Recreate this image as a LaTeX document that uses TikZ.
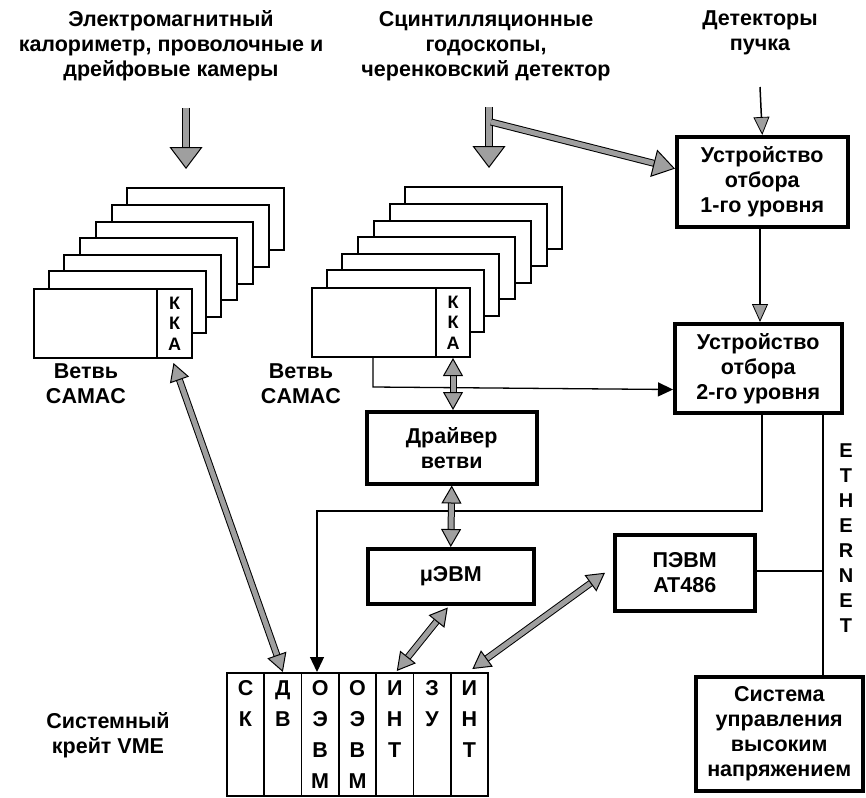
\documentclass[tikz,border=0pt]{standalone}
\usepackage{fontspec}
\setmainfont{Liberation Sans}
\usetikzlibrary{arrows.meta,calc}
\colorlet{arrowgrey}{gray!75}
\tikzset{
  fattip/.tip={Triangle[width=20pt,length=18pt,fill=arrowgrey,line width=1pt]},
  bigtip/.tip={Triangle[width=33pt,length=22pt,fill=arrowgrey,line width=1pt]},
  forktip/.tip={Triangle[width=28pt,length=22pt,fill=arrowgrey,line width=1pt]},
  blacktip/.tip={Triangle[width=14pt,length=15pt]},
  greytip/.tip={Triangle[width=16pt,length=18pt,fill=arrowgrey,line width=0.8pt]},
}
\begin{document}
\begin{tikzpicture}[x=1pt,y=-1pt,
  every node/.style={font=\bfseries\fontsize{21.5}{25}\selectfont, align=center, inner sep=0pt},
  card/.style={draw, line width=2pt, fill=white},
  unit/.style={draw, line width=3.5pt, fill=white, anchor=north west},
  slot/.style={draw, line width=1.8pt, anchor=north west, minimum width=37.3pt, minimum height=123pt},
  kka/.style={card, anchor=north east, minimum height=69pt, font=\bfseries\fontsize{18}{20.5}\selectfont},
  fat/.style={draw=black, line width=1pt, double=arrowgrey, double distance=5pt},
  thin/.style={draw, line width=1.3pt},
]
\useasboundingbox (0,0) rectangle (866,797);

% headings
\node (hL) at (171,46) {Электромагнитный\\калориметр, проволочные и\\дрейфовые камеры};
\node (hM) at (486,46) {Сцинтилляционные\\годоскопы,\\черенковский детектор};
\node (hR) at (760,33) {Детекторы\\пучка};

% left CAMAC branch: stacked crates
\foreach \i in {6,...,1} {
  \draw[card] ({33+15.7*\i},{288-16.6*\i}) rectangle +(157,62);
}
\node[card, anchor=north west, minimum width=158pt, minimum height=69pt] (frontL) at (33,288) {};
\node[kka, minimum width=35pt] (kkaL) at (frontL.north east) {К\\К\\А};
\node (brL) at (86,384) {Ветвь\\CAMAC};

% middle CAMAC branch
\foreach \i in {6,...,1} {
  \draw[card] ({311+15.7*\i},{287-16.6*\i}) rectangle +(157,62);
}
\node[card, anchor=north west, minimum width=158pt, minimum height=69pt] (frontM) at (311,287) {};
\node[kka, minimum width=34pt] (kkaM) at (frontM.north east) {К\\К\\А};
\node (brM) at (301,384) {Ветвь\\CAMAC};

% trigger units
\node[unit, minimum width=171pt, minimum height=90pt] (trig1) at (675,135) {Устройство\\отбора\\1-го уровня};
\node[unit, minimum width=167pt, minimum height=89pt] (trig2) at (673,322) {Устройство\\отбора\\2-го уровня};

% branch driver and micro-computer
\node[unit, minimum width=170pt, minimum height=72pt] (drv) at (365,410) {Драйвер\\ветви};
\node[unit, minimum width=166pt, minimum height=55pt] (mu) at (366,547) {μЭВМ};

% PC and HV control
\node[unit, minimum width=140pt, minimum height=76pt] (pc) at (613,533) {ПЭВМ\\AT486};
\node[unit, minimum width=167pt, minimum height=114pt] (hv) at (694,675) {Система\\управления\\высоким\\напряжением};

% VME system crate
\node (vmeL) at (108,735) {Системный\\крейт VME};
\foreach \n/\t [count=\k from 0] in {c1/С\\К, c2/Д\\В, c3/О\\Э\\В\\М, c4/О\\Э\\В\\М, c5/И\\Н\\Т, c6/З\\У, c7/И\\Н\\Т} {
  \node[slot] (\n) at ({226+37.3*\k},672) {};
  \node[anchor=north, font=\bfseries\fontsize{21.5}{31}\selectfont] at ($(\n.north)+(0,8)$) {\t};
}

% ETHERNET label
\node[font=\bfseries\fontsize{20}{25}\selectfont] (eth) at (846,538) {E\\T\\H\\E\\R\\N\\E\\T};

% detector inputs
\coordinate (inL) at (186,108);
\coordinate (inLe) at (186,169);
\coordinate (inM) at (489,107);
\coordinate (inMe) at (489,168);
\coordinate (fork) at (491,122);
\coordinate (inB) at (760,87);
\draw[fat, double distance=6.5pt, -{bigtip}] (inL) -- (inLe);
\draw[fat, double distance=6.5pt, -{bigtip}] (inM) -- (inMe);
\draw[fat, -{forktip}]
  (fork) -- ($(trig1.north west)!0.36!(trig1.south west)$);
\draw[thin, line width=1.5pt, -{greytip}] (inB) -- (trig1.north);
\draw[thin, line width=1.5pt, -{greytip}] (trig1.south -| inB) -- (trig2.north -| inB);

% data paths
\coordinate (mDrop) at (373,387);
\draw[thin, -{blacktip}] (frontM.south -| mDrop) -- (mDrop) -- ($(trig2.north west)!0.73!(trig2.south west)$);
\coordinate (t2a) at (762,511);
\coordinate (t2b) at (317,511);
\draw[thin, -{blacktip}] (trig2.south -| t2a) -- (t2a) -- (t2b) -- (c3.north -| t2b);

% ethernet bus
\coordinate (ethx) at (823,571);
\draw[line width=2.4pt] (trig2.south -| ethx) -- (hv.north -| ethx);
\draw[line width=2.4pt] (pc.east |- ethx) -- (ethx);

% bidirectional links
\draw[fat, {fattip}-{fattip}] (kkaM.south) -- (kkaM.south |- drv.north);
\draw[fat, {fattip}-{fattip}] (drv.south) -- (mu.north);
\draw[fat, {fattip}-{fattip}] ($(kkaL.south)+(-1,4)$) -- (c2.north);
\draw[fat, {fattip}-{fattip}] ($(mu.south)+(-3,2)$) -- ($(c5.north)+(2,-1)$);
\draw[fat, {fattip}-{fattip}] ($(pc.west)+(-8,0)$) -- ($(c7.north)+(3,-3)$);
\end{tikzpicture}
\end{document}
